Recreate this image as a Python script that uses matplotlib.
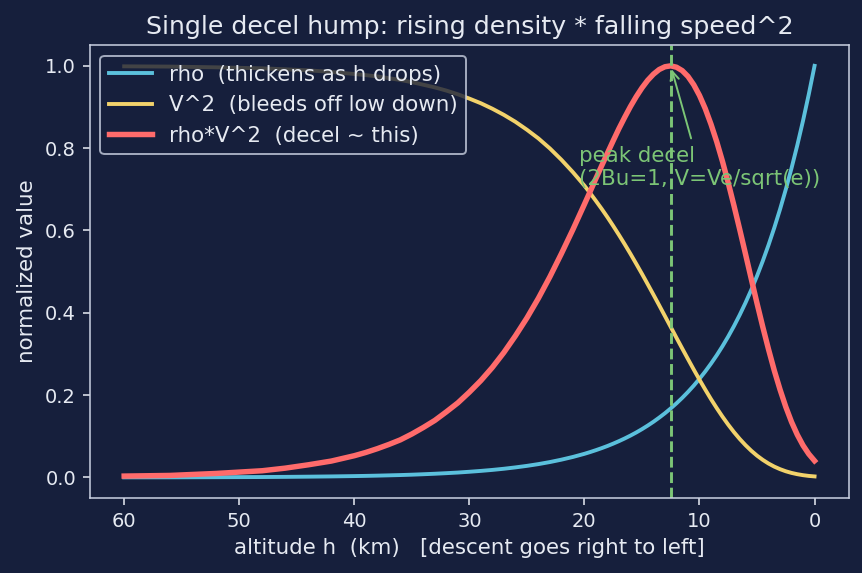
import matplotlib
matplotlib.use("Agg")
import matplotlib.pyplot as plt

# altitude samples (km) and normalized curves
h = [60, 56, 52, 48, 46, 44, 42, 40, 39, 38, 37, 36, 35, 34, 33, 32, 31, 30,
     29, 28, 27, 26, 25, 24, 23, 22, 21, 20,
     19.5, 19, 18.5, 18, 17.5, 17, 16.5, 16, 15.5, 15, 14.5, 14, 13.5, 13,
     12.5, 12, 11.5, 11, 10.5, 10, 9.5, 9, 8.5, 8, 7.5, 7, 6.5, 6, 5.5, 5,
     4.5, 4, 3.5, 3, 2.5, 2, 1.5, 1, 0.5, 0]
rho = [0.0002, 0.0003, 0.0006, 0.0010, 0.0014, 0.0019, 0.0025, 0.0033, 0.0038,
       0.0044, 0.0051, 0.0058, 0.0067, 0.0078, 0.0090, 0.0104, 0.0119, 0.0138,
       0.0159, 0.0183, 0.0211, 0.0244, 0.0281, 0.0324, 0.0374, 0.0432, 0.0498,
       0.0574,
       0.0617, 0.0663, 0.0712, 0.0764, 0.0821, 0.0882, 0.0947, 0.1017, 0.1092,
       0.1173, 0.1260, 0.1353, 0.1454, 0.1561, 0.1677, 0.1801, 0.1934, 0.2077,
       0.2231, 0.2397, 0.2574, 0.2765, 0.2969, 0.3189, 0.3425, 0.3679, 0.3951,
       0.4244, 0.4558, 0.4895, 0.5258, 0.5647, 0.6065, 0.6514, 0.6997, 0.7515,
       0.8071, 0.8669, 0.9311, 1.0]
v2 = [0.9988, 0.9982, 0.9964, 0.9940, 0.9916, 0.9891, 0.9852, 0.9802, 0.9774,
      0.9743, 0.9701, 0.9656, 0.9604, 0.9541, 0.9476, 0.9399, 0.9309, 0.9204,
      0.9091, 0.8958, 0.8809, 0.8641, 0.8448, 0.8237, 0.7993, 0.7718, 0.7416,
      0.7089,
      0.6907, 0.6718, 0.6525, 0.6323, 0.6111, 0.5892, 0.5666, 0.5433, 0.5192,
      0.4947, 0.4695, 0.4440, 0.4181, 0.3919, 0.3656, 0.3393, 0.3133, 0.2876,
      0.2622, 0.2374, 0.2135, 0.1903, 0.1684, 0.1476, 0.1281, 0.1100, 0.0934,
      0.0784, 0.0649, 0.0530, 0.0427, 0.0338, 0.0263, 0.0201, 0.0150, 0.0110,
      0.0079, 0.0055, 0.0037, 0.0025]
decel = [0.0033, 0.0049, 0.0097, 0.0163, 0.0226, 0.0307, 0.0398, 0.0528,
         0.0607, 0.0699, 0.0801, 0.0913, 0.1055, 0.1214, 0.1386, 0.1594, 0.1812,
         0.2072, 0.2354, 0.2674, 0.3036, 0.3439, 0.3874, 0.4353, 0.4876, 0.5438,
         0.6024, 0.6637,
         0.6948, 0.7264, 0.7573, 0.7879, 0.8181, 0.8476, 0.8750, 0.9012,
         0.9250, 0.9464, 0.9649, 0.9798, 0.9911, 0.9978, 1.0, 0.9967, 0.9884,
         0.9743, 0.9541, 0.9281, 0.8961, 0.8582, 0.8155, 0.7677, 0.7155, 0.6600,
         0.6021, 0.5427, 0.4825, 0.4231, 0.3658, 0.3113, 0.2599, 0.2135, 0.1715,
         0.1348, 0.1038, 0.0778, 0.0569, 0.0404]
h_peak = 12.5

bg = "#161f3c"
fg = "#e6eaf2"
green = "#7cc576"

fig, ax = plt.subplots(figsize=(862 / 140, 573 / 140), dpi=140)
fig.patch.set_facecolor(bg)
ax.set_facecolor(bg)

ax.plot(h, rho, color="#5bc0dc", lw=2, label="rho  (thickens as h drops)")
ax.plot(h, v2, color="#f2d26b", lw=2, label="V^2  (bleeds off low down)")
ax.plot(h, decel, color="#ff6b6b", lw=2.8, label="rho*V^2  (decel ~ this)")
ax.axvline(h_peak, color=green, ls="--", lw=1.5)
ax.annotate("peak decel\n(2Bu=1, V=Ve/sqrt(e))", xy=(h_peak, 1.0),
            xytext=(20.5, 0.71), color=green, fontsize=11,
            arrowprops=dict(arrowstyle="->", color=green, lw=1.0))

ax.invert_xaxis()
ax.set_xlabel("altitude h  (km)   [descent goes right to left]", color=fg, fontsize=11)
ax.set_ylabel("normalized value", color=fg, fontsize=11)
ax.set_title("Single decel hump: rising density * falling speed^2", color=fg, fontsize=13)
ax.tick_params(colors=fg, labelsize=10)
for s in ax.spines.values():
    s.set_color("#c8cfe0")

leg = ax.legend(loc="upper left", fontsize=11, facecolor=bg, edgecolor="#c8cfe0",
                framealpha=0.8)
for t in leg.get_texts():
    t.set_color(fg)

plt.subplots_adjust(left=0.104, right=0.985, top=0.921, bottom=0.131)
plt.savefig("out.png", facecolor=bg)
